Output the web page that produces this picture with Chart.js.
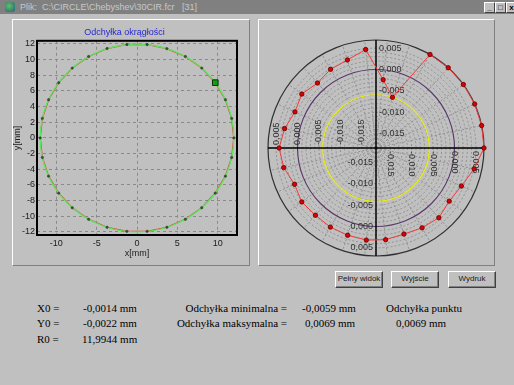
<!DOCTYPE html>
<html>
<head>
<meta charset="utf-8">
<script src="https://cdn.jsdelivr.net/npm/chart.js@4.4.1/dist/chart.umd.min.js"></script>
<style>
  html, body { margin: 0; padding: 0; }
  body { width: 514px; height: 385px; background: #c0c0c0; position: relative; overflow: hidden;
         font-family: "Liberation Sans", Arial, sans-serif; }
  #titlebar { position: absolute; left: 0; top: 0; width: 514px; height: 14px; background: #808080; }
  #titlebar .icon { position: absolute; left: 5px; top: 2px; width: 10px; height: 10px;
                    background: radial-gradient(circle at 40% 40%, #60c060, #206080); border-radius: 3px; }
  #titlebar .caption { position: absolute; left: 20px; top: 1px; font-size: 9px; line-height: 12px; color: #c8c8c8; white-space: pre; }
  .wbtn { position: absolute; top: 2px; width: 9px; height: 9px; background: #c0c0c0;
          border-top: 1px solid #fff; border-left: 1px solid #fff; border-right: 1px solid #404040; border-bottom: 1px solid #404040;
          font-size: 8px; line-height: 9px; text-align: center; color: #000; font-weight: bold; }
  .panel { position: absolute; box-sizing: border-box; border-top: 1px solid #fff; border-left: 1px solid #fff;
           border-right: 1px solid #808080; border-bottom: 1px solid #808080; }
  canvas { position: absolute; }
  .btn { position: absolute; top: 271px; height: 17px; box-sizing: border-box; background: #c0c0c0;
         border-top: 1px solid #fff; border-left: 1px solid #fff; border-right: 1px solid #404040; border-bottom: 1px solid #404040;
         box-shadow: inset -1px -1px 0 #808080; font-size: 8px; line-height: 14px; text-align: center; color: #202020; }
  .info { position: absolute; font-family: "Liberation Serif", "Times New Roman", serif; font-size: 11px;
          line-height: 12px; color: #000; white-space: pre; }
</style>
</head>
<body>
<div id="titlebar">
  <div class="icon"></div>
  <div class="caption">Plik:  C:\CIRCLE\Chebyshev\30CIR.fcr   [31]</div>
  <div class="wbtn" style="left:484px">_</div>
  <div class="wbtn" style="left:495px">&#9633;</div>
  <div class="wbtn" style="left:506px">x</div>
</div>

<div class="panel" style="left:12px; top:19px; width:238px; height:247px;"></div>
<div class="panel" style="left:258px; top:19px; width:237px; height:247px;"></div>

<canvas id="xy" width="237" height="246" style="left:12px; top:19px;"></canvas>
<canvas id="polar" width="230" height="230" style="left:261px; top:33px;"></canvas>

<div class="btn" style="left:335px; width:48px;">Pełny widok</div>
<div class="btn" style="left:391px; width:48px;">Wyjście</div>
<div class="btn" style="left:448px; width:48px;">Wydruk</div>

<div class="info" style="left:37px; top:302px;">X0 =</div>
<div class="info" style="left:83px; top:302px;">-0,0014 mm</div>
<div class="info" style="left:37px; top:317px;">Y0 =</div>
<div class="info" style="left:83px; top:317px;">-0,0022 mm</div>
<div class="info" style="left:37px; top:333px;">R0 =</div>
<div class="info" style="left:82px; top:333px;">11,9944 mm</div>
<div class="info" style="right:227px; top:302px;">Odchyłka minimalna =</div>
<div class="info" style="right:227px; top:317px;">Odchyłka maksymalna =</div>
<div class="info" style="left:302px; top:302px;">-0,0059 mm</div>
<div class="info" style="left:305px; top:317px;">0,0069 mm</div>
<div class="info" style="left:386px; top:302px;">Odchyłka punktu</div>
<div class="info" style="left:396px; top:317px;">0,0069 mm</div>

<script>
// Measurement angles (degrees, counter-clockwise from +x)
const angles = [0, 12, 24, 36, 48, 60, 72, 84, 96, 108, 120, 132, 144, 156, 168,
                180, 192, 204, 216, 228, 240, 252, 264, 276, 288, 300, 312, 324, 336, 348];
// Radial deviation of each measured point from the fitted circle [mm]
const deviations = [0.0069, 0.0069, 0.0069, 0.0069, 0.0069, 0.0069, -0.0059, -0.0023, 0.0048, 0.0033,
                    0.0029, 0.0021, 0.0031, 0.0024, 0.0035, 0.0043, 0.0037, 0.0025, 0.0031, 0.0028,
                    0.0030, 0.0031, 0.0033, 0.0032, 0.0028, 0.0032, 0.0036, 0.0028, 0.0035, 0.0051];
// Fitted circle
const X0 = -0.0014, Y0 = -0.0022, R0 = 11.9944;
const devMin = -0.0059, devMax = 0.0069;
const selectedIndex = 3;

// Axis ticks
const xTicks = [-10, -5, 0, 5, 10];
const yTicks = [-12, -10, -8, -6, -4, -2, 0, 2, 4, 6, 8, 10, 12];
const polarTickValues = [0.005, 0.000, -0.005, -0.010, -0.015];
const polarTickLabels = ['0,005', '0,000', '-0,005', '-0,010', '-0,015'];

const rad = d => d * Math.PI / 180;

// ---------- Cartesian view ----------
const measured = angles.map((a, i) => ({
  x: X0 + (R0 + deviations[i]) * Math.cos(rad(a)),
  y: Y0 + (R0 + deviations[i]) * Math.sin(rad(a))
}));
const closedPath = measured.concat([measured[0]]);

const tickFont = { family: '"Liberation Sans", Arial, sans-serif', size: 9 };

const fittedCircle = {
  id: 'fittedCircle',
  afterDatasetDraw(chart, args) {
    if (args.index !== 2) return;
    const xs = chart.scales.x, ys = chart.scales.y, ctx = chart.ctx;
    const cx = xs.getPixelForValue(X0), cy = ys.getPixelForValue(Y0);
    const rx = Math.abs(xs.getPixelForValue(X0 + R0) - cx);
    const ry = Math.abs(ys.getPixelForValue(Y0 + R0) - cy);
    ctx.save();
    ctx.beginPath();
    ctx.ellipse(cx, cy, rx, ry, 0, 0, Math.PI * 2);
    ctx.strokeStyle = '#5ae65a';
    ctx.lineWidth = 1.3;
    ctx.stroke();
    ctx.restore();
  },
  afterDraw(chart) {
    const a = chart.chartArea, ctx = chart.ctx;
    ctx.save();
    ctx.strokeStyle = '#000';
    ctx.lineWidth = 2;
    ctx.strokeRect(a.left, a.top, a.right - a.left, a.bottom - a.top);
    ctx.restore();
  }
};

new Chart(document.getElementById('xy'), {
  type: 'scatter',
  data: {
    datasets: [
      { // selected point
        data: [measured[selectedIndex]],
        pointStyle: 'rect', pointRadius: 4,
        backgroundColor: '#10a010', borderColor: '#103010', borderWidth: 1
      },
      { // measured points
        data: measured,
        pointRadius: 1.2, backgroundColor: '#3a503a', borderColor: '#2a3a2a', borderWidth: 0.5
      },
      { // measured profile
        data: closedPath, showLine: true, pointRadius: 0,
        borderColor: '#e03828', borderWidth: 1.2, tension: 0
      }
    ]
  },
  options: {
    responsive: false, animation: false, events: [],
    layout: { padding: { left: 0, right: 12, top: 0, bottom: 0 } },
    plugins: {
      legend: { display: false }, tooltip: { enabled: false },
      title: { display: true, text: 'Odchyłka okrągłości', color: '#2828d0',
               font: { family: tickFont.family, size: 9, weight: 'normal' }, padding: { top: 8, bottom: 3 } }
    },
    scales: {
      x: {
        type: 'linear', min: -12.4, max: 12.4,
        afterBuildTicks: s => { s.ticks = xTicks.map(v => ({ value: v })); },
        afterFit: s => { s.height = 30; },
        grid: { color: '#8a8a8a', lineWidth: 1, drawTicks: false },
        border: { display: false, dash: [3, 3] },
        ticks: { font: tickFont, color: '#202020', padding: 3 },
        title: { display: true, text: 'x[mm]', font: tickFont, color: '#202020', padding: { top: 0, bottom: 6 } }
      },
      y: {
        type: 'linear', min: -12.4, max: 12.4,
        afterBuildTicks: s => { s.ticks = yTicks.map(v => ({ value: v })); },
        afterFit: s => { s.width = 25; },
        grid: { color: '#8a8a8a', lineWidth: 1, drawTicks: false },
        border: { display: false, dash: [3, 3] },
        ticks: { font: tickFont, color: '#202020', padding: 2 },
        title: { display: true, text: 'y[mm]', font: tickFont, color: '#202020', padding: 0 }
      }
    }
  },
  plugins: [fittedCircle]
});

// ---------- Polar deviation view ----------
// Radar runs clockwise from its start angle; order the points so that angle grows counter-clockwise.
const cwOrder = [0].concat(angles.slice(1).map((_, i) => angles.length - 1 - i));
const polarLabels = cwOrder.map(i => angles[i] + '°');
const polarValues = cwOrder.map(i => deviations[i]);

const RMIN = -0.01835, RMAX = devMax;

const polarDecor = {
  id: 'polarDecor',
  beforeDatasetsDraw(chart) {
    const s = chart.scales.r, ctx = chart.ctx;
    const xc = s.xCenter, yc = s.yCenter;
    const ring = (v, color, w) => {
      ctx.beginPath();
      ctx.arc(xc, yc, s.getDistanceFromCenterForValue(v), 0, Math.PI * 2);
      ctx.strokeStyle = color; ctx.lineWidth = w; ctx.setLineDash([]); ctx.stroke();
    };
    ctx.save();
    ring(devMin, '#ecec10', 1.2);
    ring(0, '#5a3a6a', 1.2);
    ring(RMAX, '#303030', 1.2);
    const R = s.getDistanceFromCenterForValue(RMAX);
    ctx.beginPath();
    ctx.moveTo(xc - R, yc); ctx.lineTo(xc + R, yc);
    ctx.moveTo(xc, yc - R); ctx.lineTo(xc, yc + R);
    ctx.strokeStyle = '#000'; ctx.lineWidth = 1.5; ctx.stroke();

    ctx.font = '9px "Liberation Sans", Arial, sans-serif';
    ctx.fillStyle = '#303030';
    ctx.textBaseline = 'middle';
    polarTickValues.forEach((v, i) => {
      const d = s.getDistanceFromCenterForValue(v);
      const t = polarTickLabels[i];
      ctx.textAlign = 'left';
      ctx.fillText(t, xc + 3, yc - d);
      ctx.textAlign = 'right';
      ctx.fillText(t, xc - 3, yc + d);
      ctx.save(); ctx.translate(xc - d, yc - 3); ctx.rotate(-Math.PI / 2);
      ctx.textAlign = 'left'; ctx.fillText(t, 0, 0); ctx.restore();
      ctx.save(); ctx.translate(xc + d, yc + 3); ctx.rotate(Math.PI / 2);
      ctx.textAlign = 'left'; ctx.fillText(t, 0, 0); ctx.restore();
    });
    ctx.restore();
  }
};

new Chart(document.getElementById('polar'), {
  type: 'radar',
  data: {
    labels: polarLabels,
    datasets: [{
      data: polarValues, fill: false,
      borderColor: '#f03c3c', borderWidth: 1,
      pointRadius: 2.2, pointBackgroundColor: '#dd0000', pointBorderColor: '#600000', pointBorderWidth: 0.8
    }]
  },
  options: {
    responsive: false, animation: false, events: [],
    layout: { padding: 7 },
    plugins: { legend: { display: false }, tooltip: { enabled: false } },
    scales: {
      r: {
        min: RMIN, max: RMAX, startAngle: 90,
        ticks: { display: false, stepSize: 0.001 },
        pointLabels: { display: false },
        grid: {
          circular: true, lineWidth: 1,
          color: c => (Math.abs(c.tick.value) < 1e-9 || c.tick.value >= RMAX - 1e-9) ? 'rgba(0,0,0,0)' : '#909090'
        },
        border: { dash: [2, 2] },
        angleLines: { color: '#909090', lineWidth: 1, borderDash: [2, 2] }
      }
    }
  },
  plugins: [polarDecor]
});
</script>
</body>
</html>
